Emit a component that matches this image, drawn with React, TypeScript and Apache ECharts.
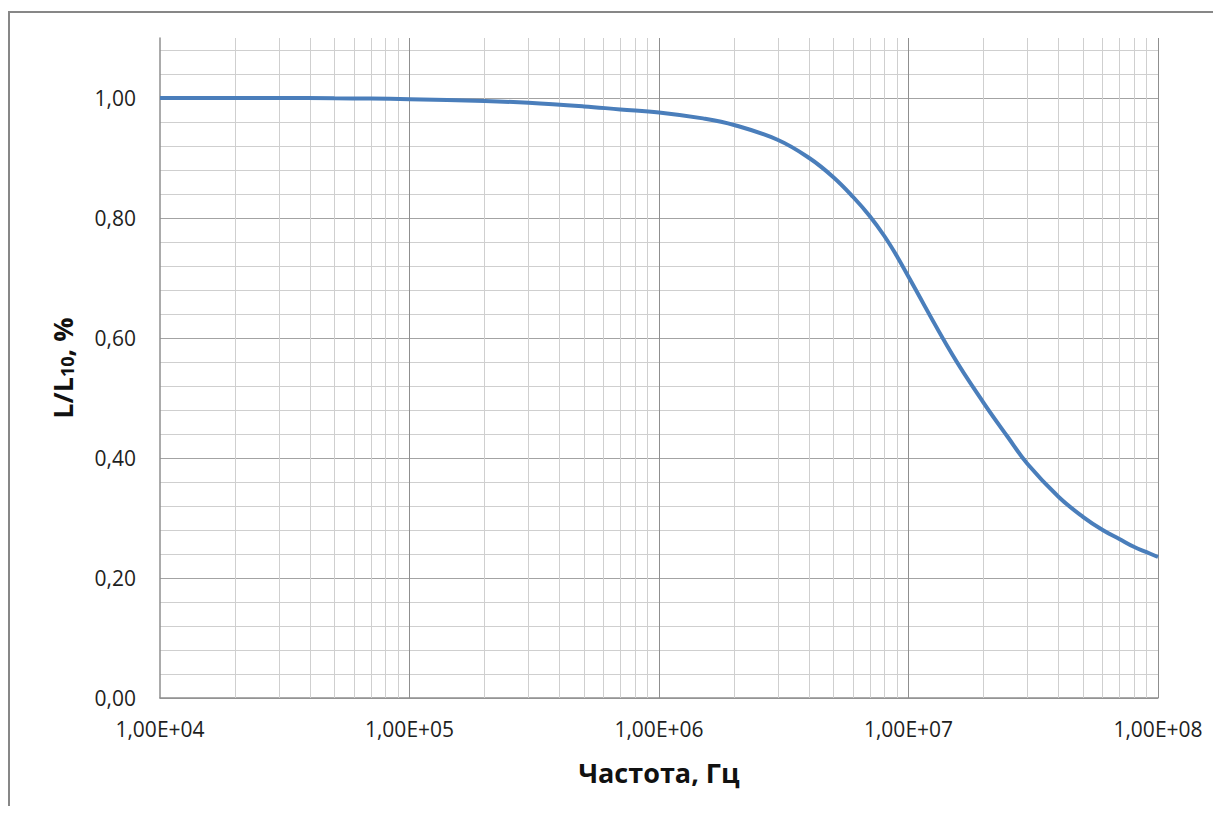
import React, { useEffect, useRef } from "react";
import * as echarts from "echarts";

// Frequency, Hz
const FREQ = [
  1e4, 2e4, 3e4, 5e4, 7e4, 1e5, 2e5, 3e5, 5e5, 7e5, 1e6, 1.5e6, 2e6, 3e6, 4e6,
  5e6, 6e6, 7e6, 8e6, 9e6, 1e7, 1.5e7, 2e7, 2.5e7, 3e7, 4e7, 5e7, 6e7, 7e7, 8e7, 9e7,
  1e8,
];
// L / L10
const RATIO = [
  1.0, 1.0, 1.0, 0.9995, 0.999, 0.998, 0.995, 0.992, 0.986, 0.981, 0.976,
  0.966, 0.955, 0.93, 0.9, 0.868, 0.835, 0.803, 0.77, 0.736, 0.702, 0.572,
  0.492, 0.435, 0.39, 0.335, 0.302, 0.28, 0.265, 0.252, 0.243, 0.235,
];

const X_MIN = 1e4;
const X_MAX = 1e8;
const Y_MIN = 0;
const Y_MAX = 1.1;
const Y_MINOR_STEP = 0.04;
const Y_LABEL_STEP = 0.2;
const MINOR_MULTIPLIERS = [2, 3, 4, 5, 6, 7, 8, 9];
const DECADES = [1e4, 1e5, 1e6, 1e7];

const X_TITLE = "Частота, Гц";

const MAJOR_GRID = "#8f8f8f";
const MINOR_GRID = "#cfcfcf";
const Y_MAJOR_GRID = "#a3a3a3";
const LINE_COLOR = "#4a7ebb";
const FONT = "'Open Sans', 'Noto Sans', sans-serif";

const fmtSci = (v: number) => {
  const e = Math.round(Math.log10(v));
  const m = v / Math.pow(10, e);
  return m.toFixed(2).replace(".", ",") + "E+" + String(e).padStart(2, "0");
};

export default function App() {
  const ref = useRef<HTMLDivElement>(null);

  useEffect(() => {
    if (!ref.current) return;
    const chart = echarts.init(ref.current, undefined, { renderer: "svg" });

    const minorX: number[] = [];
    DECADES.forEach((d) => MINOR_MULTIPLIERS.forEach((m) => minorX.push(d * m)));

    const nY = Math.round((Y_MAX - Y_MIN) / Y_MINOR_STEP) + 1;
    const yColors: string[] = [];
    for (let i = 0; i < nY; i++) yColors.push(i % 5 === 0 ? Y_MAJOR_GRID : MINOR_GRID);

    const data = FREQ.map((f, i) => [f, RATIO[i]]);

    chart.setOption({
      animation: false,
      backgroundColor: "transparent",
      grid: { left: 152, right: 63, top: 30, bottom: 108, containLabel: false },
      xAxis: {
        type: "log",
        logBase: 10,
        min: X_MIN,
        max: X_MAX,
        name: X_TITLE,
        nameLocation: "middle",
        nameGap: 61,
        nameTextStyle: {
          fontFamily: FONT,
          fontWeight: "bold",
          fontSize: 27,
          color: "#111",
        },
        axisLine: { show: true, lineStyle: { color: MAJOR_GRID, width: 1.5 } },
        axisTick: { show: false },
        axisLabel: {
          formatter: (v: number) => fmtSci(v),
          fontFamily: FONT,
          fontSize: 21,
          color: "#1e1e1e",
          margin: 20,
        },
        splitLine: {
          show: true,
          showMinLine: false,
          lineStyle: { color: MAJOR_GRID, width: 1 },
        },
      },
      yAxis: {
        type: "value",
        min: Y_MIN,
        max: Y_MAX,
        interval: Y_MINOR_STEP,
        name: "{a|L/L}{b|10}{a|, %}",
        nameLocation: "middle",
        nameRotate: 90,
        nameGap: 84,
        nameTextStyle: {
          rich: {
            a: {
              fontFamily: FONT,
              fontWeight: "bold",
              fontSize: 27,
              color: "#111",
              lineHeight: 34,
              verticalAlign: "bottom",
            },
            b: {
              fontFamily: FONT,
              fontWeight: "bold",
              fontSize: 18,
              color: "#111",
              lineHeight: 18,
              verticalAlign: "bottom",
            },
          },
        },
        axisLine: { show: true, lineStyle: { color: MAJOR_GRID, width: 1.5 } },
        axisTick: { show: false },
        axisLabel: {
          showMaxLabel: false,
          fontFamily: FONT,
          fontSize: 21,
          color: "#1e1e1e",
          margin: 24,
          formatter: (v: number) => {
            const k = Math.round(v / Y_LABEL_STEP);
            if (Math.abs(v - k * Y_LABEL_STEP) < 1e-6 && v <= 1.0 + 1e-6) {
              return v.toFixed(2).replace(".", ",");
            }
            return "";
          },
        },
        splitLine: {
          show: true,
          showMaxLine: false,
          lineStyle: { color: yColors, width: 1 },
        },
      },
      series: [
        {
          type: "line",
          data,
          silent: true,
          z: 1,
          showSymbol: false,
          lineStyle: { opacity: 0, width: 0 },
          markLine: {
            silent: true,
            symbol: "none",
            label: { show: false },
            lineStyle: { color: MINOR_GRID, type: "solid", width: 1 },
            data: minorX.map((x) => ({ xAxis: x })),
          },
        },
        {
          type: "line",
          data,
          z: 5,
          smooth: 0.4,
          showSymbol: false,
          symbol: "none",
          lineStyle: { color: LINE_COLOR, width: 4 },
        },
      ],
    });

    return () => chart.dispose();
  }, []);

  return (
    <div
      style={{
        position: "relative",
        width: 1213,
        height: 798,
        overflow: "hidden",
        background: "#fff",
      }}
    >
      <div
        style={{
          position: "absolute",
          left: 0,
          top: 3,
          width: 1300,
          height: 900,
          border: "2px solid #878787",
          boxSizing: "border-box",
        }}
      />
      <div
        ref={ref}
        style={{ position: "absolute", left: 0, top: 0, width: 1213, height: 798 }}
      />
    </div>
  );
}
